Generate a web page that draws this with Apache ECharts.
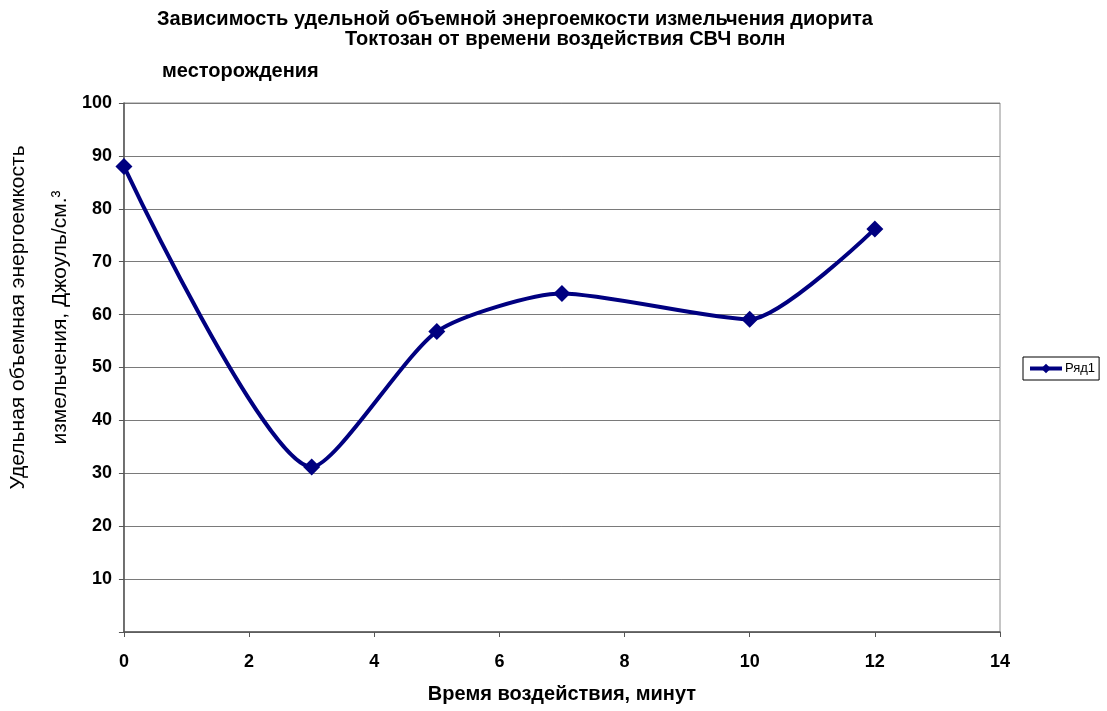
<!DOCTYPE html>
<html lang="ru">
<head>
	<meta charset="UTF-8">
	<title>Энергоемкость измельчения диорита</title>
	<style type="text/css">
		html, body { margin: 0; padding: 0; background: #fff; }
		#chart { width: 1107px; height: 711px; }
	</style>
</head>
<body>
	<div id="chart"></div>
	<script type="text/javascript" src="https://cdn.jsdelivr.net/npm/echarts@6/dist/echarts.min.js"></script>
	<script type="text/javascript">
		// время воздействия, минут
		var minutes = [0, 3, 5, 7, 10, 12];
		// энергоемкость, Джоуль/см3
		var energy = [88, 31.2, 56.8, 64, 59.1, 76.2];
		var seriesName = 'Ряд1';

		var points = [];
		for (var i = 0; i < minutes.length; i++) {
			points.push([minutes[i], energy[i]]);
		}

		var myChart = echarts.init(document.getElementById('chart'));
		var font = 'Liberation Sans, Arial, sans-serif';
		var titleStyle = { fontFamily: font, fontSize: 20, fontWeight: 'bold', color: '#000' };

		var option = {
			backgroundColor: '#fff',
			title: [
				{ text: 'Зависимость удельной объемной энергоемкости измельчения диорита', left: 152, top: 4, textStyle: titleStyle },
				{ text: 'Токтозан от времени воздействия СВЧ волн', left: 340, top: 24, textStyle: titleStyle },
				{ text: 'месторождения', left: 157, top: 56, textStyle: titleStyle }
			],
			legend: {
				data: [seriesName],
				left: 1023,
				top: 357,
				orient: 'vertical',
				itemWidth: 32,
				itemHeight: 12,
				itemGap: 4,
				padding: [5, 4, 5, 5],
				borderColor: '#000',
				borderWidth: 1,
				borderRadius: 0,
				lineStyle: { width: 4 },
				textStyle: { fontFamily: font, fontSize: 13, color: '#000', padding: [0, 0, 0, -2] }
			},
			grid: {
				left: 123,
				right: 107,
				top: 103,
				bottom: 79,
				show: true,
				borderColor: '#8c8c8c',
				borderWidth: 1
			},
			xAxis: {
				type: 'value',
				min: 0,
				max: 14,
				interval: 2,
				name: 'Время воздействия, минут',
				nameLocation: 'middle',
				nameGap: 52,
				nameTextStyle: { fontFamily: font, fontSize: 20, fontWeight: 'bold', color: '#000' },
				axisLine: { lineStyle: { color: '#555', width: 1.5 } },
				axisTick: { show: true, length: 5, lineStyle: { color: '#555' } },
				axisLabel: { margin: 21, fontFamily: font, fontSize: 18, fontWeight: 'bold', color: '#000' },
				splitLine: { show: false }
			},
			yAxis: {
				type: 'value',
				min: 0,
				max: 100,
				interval: 10,
				name: 'Удельная объемная энергоемкость\n\nизмельчения, Джоуль/см.³',
				nameLocation: 'middle',
				nameRotate: 90,
				nameGap: 50,
				nameTextStyle: { fontFamily: font, fontSize: 21, color: '#000', lineHeight: 21, padding: [0, 0, 0, 100] },
				axisLine: { show: true, lineStyle: { color: '#555', width: 1.5 } },
				axisTick: { show: true, length: 5, lineStyle: { color: '#555' } },
				axisLabel: {
					margin: 12, fontFamily: font, fontSize: 18, fontWeight: 'bold', color: '#000',
					formatter: function (v) { return v === 0 ? '' : v; }
				},
				splitLine: { show: true, lineStyle: { color: '#7a7a7a', width: 1 } }
			},
			series: [
				{
					name: seriesName,
					type: 'line',
					data: points,
					smooth: 0.22,
					symbol: 'diamond',
					symbolSize: 17,
					itemStyle: { color: '#000080' },
					lineStyle: { color: '#000080', width: 4 }
				}
			]
		};

		myChart.setOption(option);
	</script>
</body>
</html>
